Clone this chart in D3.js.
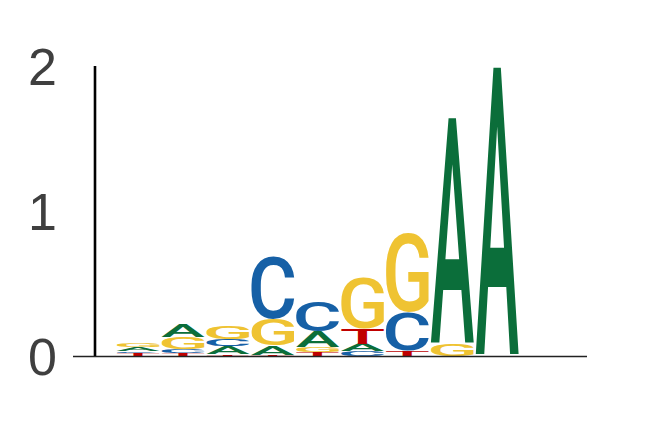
<!DOCTYPE html>
<html>
<head>
<meta charset="utf-8">
<script src="https://cdn.jsdelivr.net/npm/d3@7"></script>
<style>
  html, body { margin: 0; padding: 0; background: #fff; }
</style>
</head>
<body>
<div id="chart"></div>
<script>
// sequence logo data, stacks listed bottom -> top
var positions = [1, 2, 3, 4, 5, 6, 7, 8, 9]
var stackLetters = ['TCAG', 'TCGA', 'TACG', 'TAGC', 'TGAC', 'CATG', 'TCG', 'GA', 'A']
var stackBits = [
  [0.02, 0.012, 0.03, 0.03],
  [0.02, 0.027, 0.083, 0.095],
  [0.01, 0.057, 0.046, 0.093],
  [0.005, 0.067, 0.186, 0.434],
  [0.025, 0.035, 0.11, 0.207],
  [0.035, 0.05, 0.1, 0.36],
  [0.04, 0.26, 0.55],
  [0.083, 1.566],
  [2.0]
]
var yTicks = [0, 1, 2]

var colours = { A: '#0b6e3a', C: '#1660a6', G: '#efc332', T: '#c00000' }

var width_all = 652,
  height_all = 429

var svg = d3
  .select('#chart')
  .append('svg')
  .attr('width', width_all)
  .attr('height', height_all)

var x = d3.scaleLinear().domain([-0.45, 11]).range([73, 587])
var y = d3.scaleLinear().domain([0, 2]).range([356, 66])
var colWidth = 0.95

// ink bounds of each glyph (scanned from a canvas), so letters can be
// stretched to fill their box exactly
var fontSize = 200
var canvas = document.createElement('canvas')
canvas.width = 400
canvas.height = 400
var ctx = canvas.getContext('2d')
var glyphBox = {}
'ACGT'.split('').forEach(ch => {
  ctx.clearRect(0, 0, 400, 400)
  ctx.font = '500 ' + fontSize + 'px Roboto'
  ctx.fillStyle = '#000'
  ctx.fillText(ch, 100, 300)
  var px = ctx.getImageData(0, 0, 400, 400).data
  var x0 = 400, x1 = -1, y0 = 400, y1 = -1
  for (var r = 0; r < 400; r++) {
    for (var c = 0; c < 400; c++) {
      if (px[(r * 400 + c) * 4 + 3] > 100) {
        if (c < x0) x0 = c
        if (c > x1) x1 = c
        if (r < y0) y0 = r
        if (r > y1) y1 = r
      }
    }
  }
  glyphBox[ch] = {
    left: 100 - x0,
    right: x1 + 1 - 100,
    asc: 300 - y0,
    desc: y1 + 1 - 300
  }
})

// flatten stacks into letter boxes
var letters = []
positions.forEach((p, i) => {
  var base = 0
  stackLetters[i].split('').forEach((ch, j) => {
    var h = stackBits[i][j]
    letters.push({ pos: p, ch: ch, y0: base, y1: base + h })
    base += h
  })
})

var logo = svg.append('g')

logo
  .selectAll('text')
  .data(letters)
  .enter()
  .append('text')
  .attr('font-family', 'Roboto')
  .attr('font-weight', 500)
  .attr('font-size', fontSize)
  .attr('fill', d => colours[d.ch])
  .attr('transform', d => {
    var g = glyphBox[d.ch]
    var bx = x(d.pos - colWidth / 2),
      bw = x(d.pos + colWidth / 2) - bx,
      by = y(d.y1),
      bh = y(d.y0) - y(d.y1)
    var sx = bw / (g.left + g.right),
      sy = bh / (g.asc + g.desc)
    return (
      'translate(' + (bx + g.left * sx) + ',' + (by + g.asc * sy) + ') scale(' + sx + ',' + sy + ')'
    )
  })
  .text(d => d.ch)

// baseline
svg
  .append('line')
  .attr('x1', x.range()[0])
  .attr('x2', x.range()[1])
  .attr('y1', y(0) + 0.5)
  .attr('y2', y(0) + 0.5)
  .attr('stroke', '#222')
  .attr('stroke-width', 1.6)

// y axis
var yAxis = svg.append('g').attr('transform', 'translate(95,0)')

yAxis
  .append('line')
  .attr('x1', 0)
  .attr('x2', 0)
  .attr('y1', y(2))
  .attr('y2', y(0))
  .attr('stroke', '#000')
  .attr('stroke-width', 2.6)

yAxis
  .selectAll('text')
  .data(yTicks)
  .enter()
  .append('text')
  .attr('x', -38)
  .attr('y', d => y(d))
  .attr('dy', '0.36em')
  .attr('text-anchor', 'end')
  .attr('font-family', 'Liberation Sans, Arial, sans-serif')
  .attr('font-size', 52)
  .attr('fill', '#3f3f3f')
  .text(d => d)
</script>
</body>
</html>
